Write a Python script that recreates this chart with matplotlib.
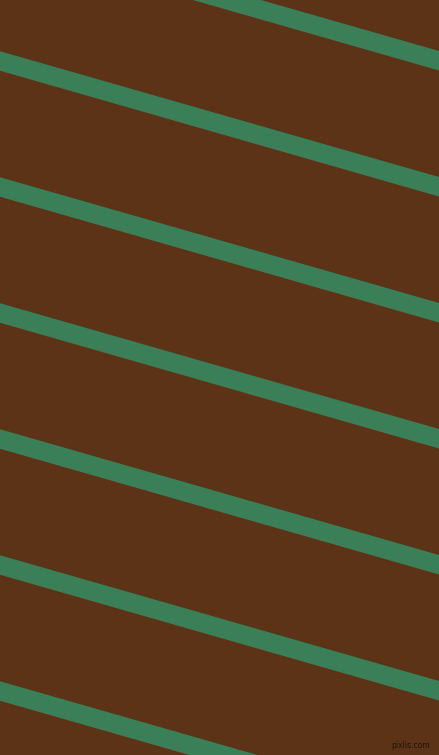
import numpy as np
import matplotlib
matplotlib.use("Agg")
import matplotlib.pyplot as plt

# stripe centre y at the left edge (pixels), shared slope and vertical thickness
stripe_y0 = [-65, 61, 187, 313, 439, 565, 691]
slope = 0.2865
thickness = 19.5

bg_color = "#5C3317"
stripe_color = "#3A7F57"

fig = plt.figure(figsize=(4.3902, 7.5502), dpi=100)
ax = fig.add_axes([0, 0, 1, 1])
ax.set_xlim(0, 439)
ax.set_ylim(755, 0)
ax.set_facecolor(bg_color)
ax.axis("off")
fig.patch.set_facecolor(bg_color)

x = np.array([-5, 444])
for y0 in stripe_y0:
    yc = y0 + slope * x
    ax.fill_between(x, yc - thickness / 2, yc + thickness / 2,
                    color=stripe_color, linewidth=0)

ax.text(430, 745, "pixlis.com", fontsize=5.5, color="#1e1208",
        ha="right", va="center", family="DejaVu Sans")

fig.savefig("out.png", dpi=100, facecolor=bg_color)
